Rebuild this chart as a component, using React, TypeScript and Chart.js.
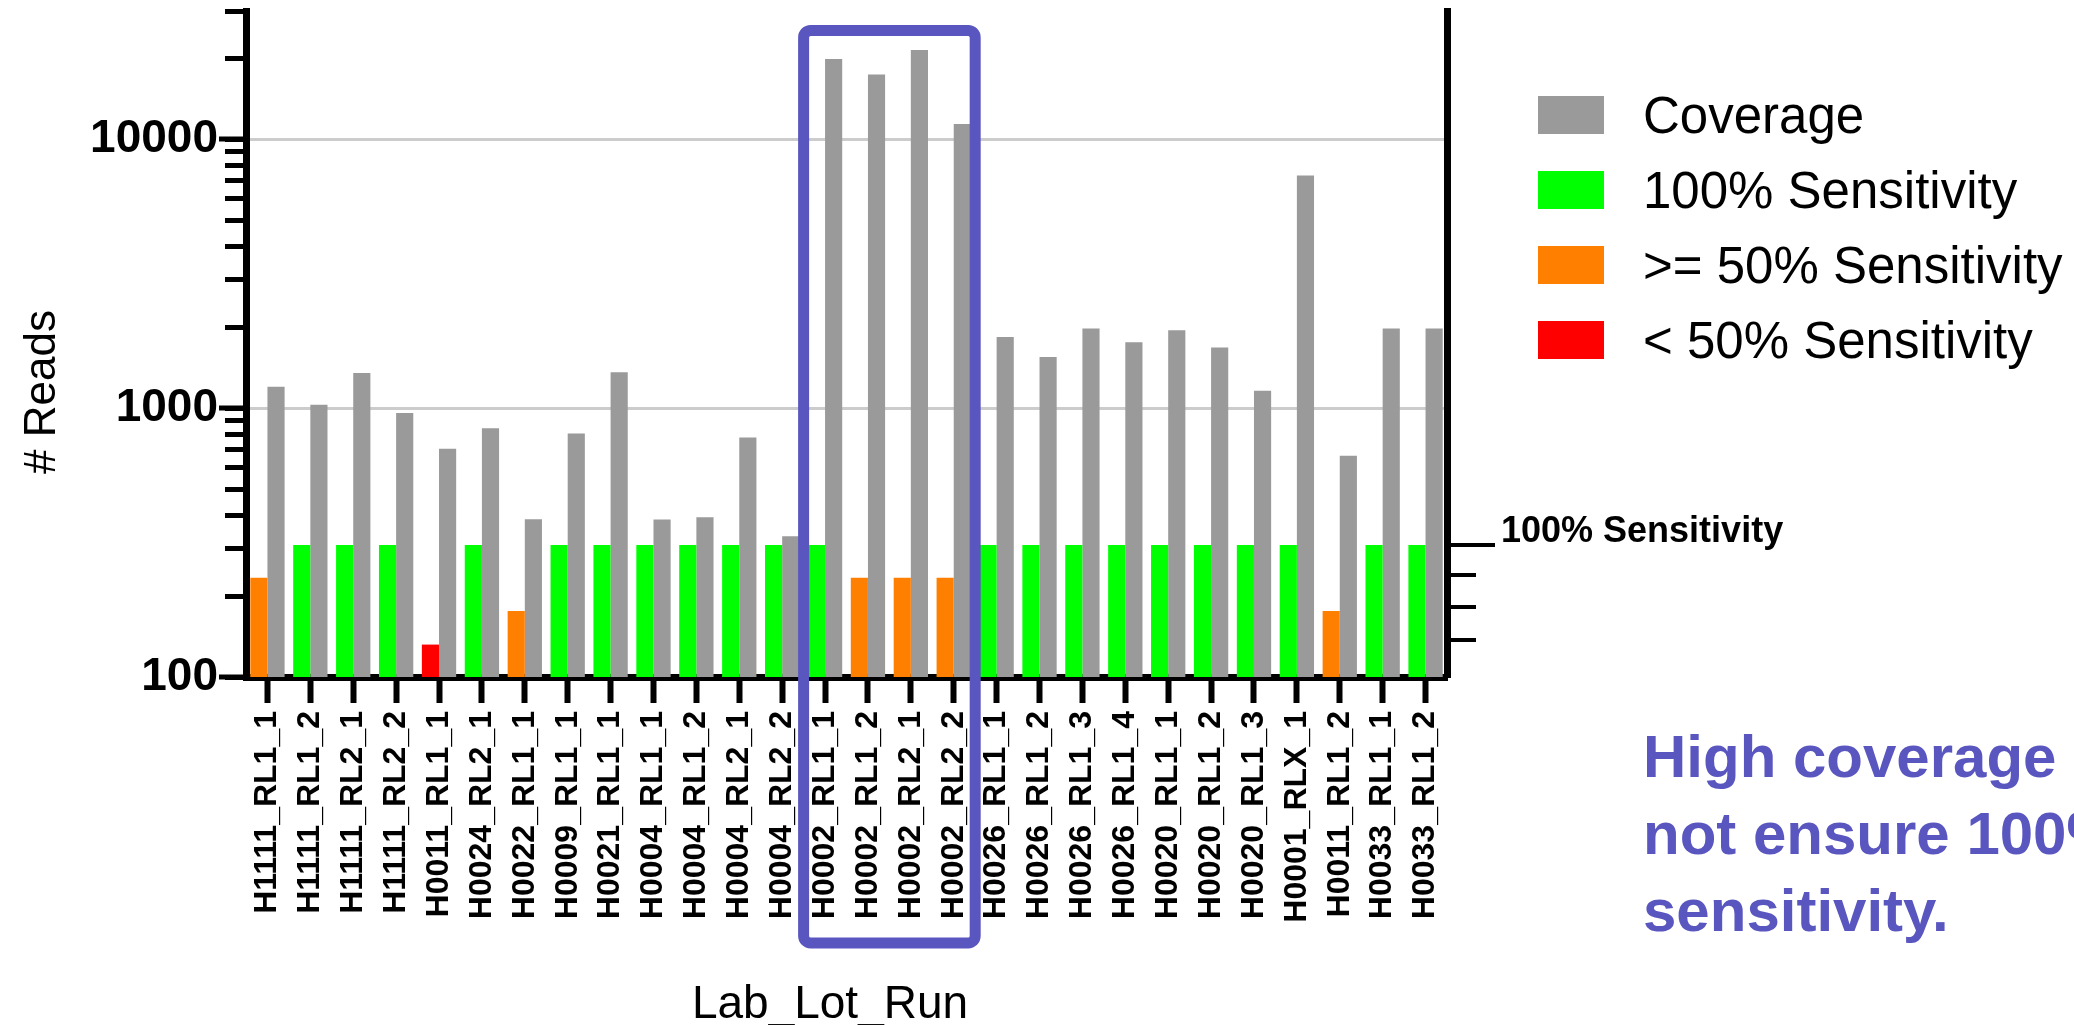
import React, { useEffect, useRef } from 'react';
import { Chart, registerables } from 'chart.js';

Chart.register(...registerables);

const N = null;

const categories = [
  'H1111_RL1_1', 'H1111_RL1_2', 'H1111_RL2_1', 'H1111_RL2_2', 'H0011_RL1_1', 'H0024_RL2_1',
  'H0022_RL1_1', 'H0009_RL1_1', 'H0021_RL1_1', 'H0004_RL1_1', 'H0004_RL1_2', 'H0004_RL2_1',
  'H0004_RL2_2', 'H0002_RL1_1', 'H0002_RL1_2', 'H0002_RL2_1', 'H0002_RL2_2', 'H0026_RL1_1',
  'H0026_RL1_2', 'H0026_RL1_3', 'H0026_RL1_4', 'H0020_RL1_1', 'H0020_RL1_2', 'H0020_RL1_3',
  'H0001_RLX_1', 'H0011_RL1_2', 'H0033_RL1_1', 'H0033_RL1_2',
];

const coverage = [
  1200, 1030, 1350, 960, 706, 842, 386, 804, 1360, 385, 393, 777, 334, 19900, 17400, 21500,
  11400, 1840, 1550, 1980, 1760, 1950, 1680, 1160, 7330, 665, 1980, 1980,
];

const sens100 = [
  N, 310, 310, 310, N, 310, N, 310, 310, 310, 310, 310, 310, 310, N, N, N, 310, 310, 310, 310,
  310, 310, 310, 310, N, 310, 310,
];

const sens50 = [
  234, N, N, N, N, N, 176, N, N, N, N, N, N, N, 234, 234, 234, N, N, N, N, N, N, N, N, 176, N, N,
];

const sensLow = [
  N, N, N, N, 132, N, N, N, N, N, N, N, N, N, N, N, N, N, N, N, N, N, N, N, N, N, N, N,
];

const yTickValues = [
  100, 200, 300, 400, 500, 600, 700, 800, 900, 1000, 2000, 3000, 4000, 5000, 6000, 7000, 8000,
  9000, 10000, 20000, 30000,
];
const yLabelledTicks = [100, 1000, 10000];
const rightTickValues = [310, 239, 182, 137];
const rightTickLabels = ['100% Sensitivity', '', '', ''];
const legendOrder = ['Coverage', '100% Sensitivity', '>= 50% Sensitivity', '< 50% Sensitivity'];
const highlightCategories = ['H0002_RL1_1', 'H0002_RL2_2'];
const highlightTopValue = 25400;
const noteLines = ['High coverage does', 'not ensure 100%', 'sensitivity.'];
const yTitle = '# Reads';
const xTitle = 'Lab_Lot_Run';

const FONT = "'Liberation Sans', Arial, Helvetica, sans-serif";
const GRAY = '#9a9a9a';
const GREEN = '#00ff00';
const ORANGE = '#ff8000';
const RED = '#ff0000';
const BLUE = '#5a56c0';

const decorPlugin = {
  id: 'decor',
  afterDraw(chart: any) {
    const { ctx, chartArea, scales } = chart;
    const x = scales.x;
    const y = scales.y;
    ctx.save();

    // right-side sensitivity axis ticks
    ctx.strokeStyle = '#000';
    ctx.fillStyle = '#000';
    ctx.lineWidth = 4;
    rightTickValues.forEach((v, i) => {
      const py = Math.round(y.getPixelForValue(v));
      const len = rightTickLabels[i] ? 48 : 29;
      ctx.beginPath();
      ctx.moveTo(chartArea.right, py);
      ctx.lineTo(chartArea.right + len, py);
      ctx.stroke();
      if (rightTickLabels[i]) {
        ctx.font = `bold 36px ${FONT}`;
        ctx.textAlign = 'left';
        ctx.textBaseline = 'alphabetic';
        ctx.fillText(rightTickLabels[i], chartArea.right + 54, py - 3);
      }
    });

    // longer major ticks on the left axis
    ctx.lineWidth = 5;
    yLabelledTicks.forEach((v) => {
      const py = Math.round(y.getPixelForValue(v));
      ctx.beginPath();
      ctx.moveTo(chartArea.left, py);
      ctx.lineTo(chartArea.left - 27, py);
      ctx.stroke();
    });

    // axis titles
    ctx.fillStyle = '#000';
    ctx.font = `44px ${FONT}`;
    ctx.textAlign = 'center';
    ctx.textBaseline = 'middle';
    ctx.save();
    ctx.translate(43, 392);
    ctx.rotate(-Math.PI / 2);
    ctx.fillText(yTitle, 0, 0);
    ctx.restore();
    ctx.font = `46px ${FONT}`;
    ctx.textBaseline = 'alphabetic';
    ctx.fillText(xTitle, 830, 1018);

    // legend
    const datasets = chart.data.datasets;
    legendOrder.forEach((label, i) => {
      const ds = datasets.find((d: any) => d.label === label);
      if (!ds) return;
      const cy = 115 + i * 75;
      ctx.fillStyle = ds.backgroundColor;
      ctx.fillRect(1538, cy - 19, 66, 38);
      ctx.fillStyle = '#000';
      ctx.font = `51px ${FONT}`;
      ctx.textAlign = 'left';
      ctx.textBaseline = 'alphabetic';
      ctx.fillText(label, 1643, cy + 18);
    });

    // highlight box
    const i0 = categories.indexOf(highlightCategories[0]);
    const i1 = categories.indexOf(highlightCategories[1]);
    const half = (x.getPixelForValue(1) - x.getPixelForValue(0)) / 2;
    const left = x.getPixelForValue(i0) - half;
    const right = x.getPixelForValue(i1) + half;
    const top = y.getPixelForValue(highlightTopValue);
    const bottom = chartArea.bottom + 266;
    ctx.strokeStyle = BLUE;
    ctx.lineWidth = 11;
    ctx.beginPath();
    if ((ctx as any).roundRect) {
      (ctx as any).roundRect(left, top, right - left, bottom - top, 7);
    } else {
      ctx.rect(left, top, right - left, bottom - top);
    }
    ctx.stroke();

    // note
    ctx.fillStyle = BLUE;
    ctx.font = `bold 60px ${FONT}`;
    ctx.textAlign = 'left';
    ctx.textBaseline = 'alphabetic';
    noteLines.forEach((line, i) => {
      ctx.fillText(line, 1643, 777 + i * 77);
    });

    ctx.restore();
  },
};

export default function App() {
  const canvasRef = useRef<HTMLCanvasElement | null>(null);

  useEffect(() => {
    const canvas = canvasRef.current;
    if (!canvas) return;
    const chart = new Chart(canvas, {
      type: 'bar',
      data: {
        labels: categories,
        datasets: [
          { label: '100% Sensitivity', data: sens100, backgroundColor: GREEN, stack: 'sens' },
          { label: '>= 50% Sensitivity', data: sens50, backgroundColor: ORANGE, stack: 'sens' },
          { label: '< 50% Sensitivity', data: sensLow, backgroundColor: RED, stack: 'sens' },
          { label: 'Coverage', data: coverage, backgroundColor: GRAY, stack: 'cov' },
        ] as any,
      },
      options: {
        responsive: false,
        animation: false,
        devicePixelRatio: 1,
        layout: { padding: { top: 11, left: 0, right: 0, bottom: 0 } },
        datasets: { bar: { categoryPercentage: 0.8, barPercentage: 1.0 } } as any,
        plugins: {
          legend: { display: false },
          tooltip: { enabled: false },
        },
        scales: {
          x: {
            stacked: true,
            afterFit: (s: any) => {
              s.height = 348;
              s.paddingLeft = 0;
              s.paddingRight = 0;
            },
            ticks: {
              autoSkip: false,
              minRotation: 90,
              maxRotation: 90,
              padding: 8,
              color: '#000',
              font: { size: 32, weight: 'bold', family: FONT },
            },
            grid: {
              offset: false,
              drawOnChartArea: false,
              drawTicks: true,
              tickLength: 26,
              tickWidth: 6,
              tickColor: '#000',
              color: '#000',
            },
            border: { display: true, color: '#000', width: 7 },
          },
          y: {
            type: 'logarithmic',
            position: 'left',
            stacked: false,
            min: 100,
            max: 30000,
            afterBuildTicks: (s: any) => { s.ticks = yTickValues.map((v) => ({ value: v })); },
            afterFit: (s: any) => {
              s.width = 246;
              s.paddingTop = 0;
              s.paddingBottom = 0;
            },
            ticks: {
              autoSkip: false,
              padding: 7,
              color: '#000',
              font: { size: 46, weight: 'bold', family: FONT },
              callback: (v: any) => (yLabelledTicks.includes(Number(v)) ? String(v) : ''),
            },
            grid: {
              color: (c: any) => (c.tick && (c.tick.value === 1000 || c.tick.value === 10000) ? '#cccccc' : 'rgba(0,0,0,0)'),
              lineWidth: 3,
              drawTicks: true,
              tickLength: 21,
              tickWidth: 5,
              tickColor: '#000',
            },
            border: { display: true, color: '#000', width: 7 },
          },
          y2: {
            type: 'logarithmic',
            position: 'right',
            min: 100,
            max: 30000,
            afterFit: (s: any) => {
              s.width = 627;
              s.paddingTop = 0;
              s.paddingBottom = 0;
            },
            ticks: { display: false },
            grid: { display: false },
            border: { display: true, color: '#000', width: 7 },
          },
        } as any,
      },
      plugins: [decorPlugin],
    });
    return () => chart.destroy();
  }, []);

  return (
    <div style={{ position: 'absolute', left: 0, top: 0, width: 2074, height: 1025, background: '#fff' }}>
      <canvas ref={canvasRef} width={2074} height={1025} style={{ display: 'block' }} />
    </div>
  );
}
